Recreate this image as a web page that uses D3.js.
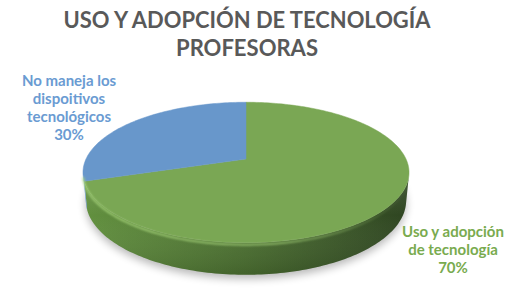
<!DOCTYPE html>
<html>
<head>
<meta charset="utf-8">
<script src="https://cdn.jsdelivr.net/npm/d3@7"></script>
<style>
	html, body { margin: 0; padding: 0; background: #fff; }
	svg { display: block; font-family: Lato, "Open Sans", sans-serif; }
</style>
</head>
<body>
<svg id="chart" width="525" height="299"></svg>
<script>
const TITLE_LINES = ["USO Y ADOPCIÓN DE TECNOLOGÍA", "PROFESORAS"];
const CATEGORIES = ["Uso y adopción de tecnología", "No maneja los dispoitivos tecnológicos"];
const VALUES = [70, 30];
const LABEL_LINES = [["Uso y adopción", "de tecnología"], ["No maneja los", "dispoitivos", "tecnológicos"]];
const TOP_COLORS = ["#7aa754", "#6897cb"];
const SIDE_COLORS = [["#62903f", "#4b6f31", "#2e4421"], ["#5d95d4", "#4f7fb8", "#3b6394"]];
const LABEL_COLORS = ["#79ab4f", "#6a9bd2"];

// camera for the tilted pie (radius 1 in world units)
const VIEW = {
	cx: 246,
	cy: 159,
	elev: 25 * Math.PI / 180,
	dist: 4.728,
	focal: 756.5,
	depth: 0.193
};

/**
 * @param {Number} theta angle clockwise from the far point
 * @param {Number} r radius fraction
 * @param {Number} yw world height (0 top, negative down)
 */
const project = (theta, r, yw) => {
	let X = r * Math.sin(theta);
	let Z = r * Math.cos(theta);
	let se = Math.sin(VIEW.elev), ce = Math.cos(VIEW.elev);
	let dep = VIEW.dist - yw * se + Z * ce;
	let up = yw * ce + Z * se;
	return [VIEW.cx + VIEW.focal * X / dep, VIEW.cy - VIEW.focal * up / dep];
};

const sample = (a0, a1, yw) => {
	let n = Math.max(2, Math.ceil(Math.abs(a1 - a0) / 0.02));
	return d3.range(n + 1).map((i) => project(a0 + (a1 - a0) * i / n, 1, yw));
};

const line = d3.line();

const build = () => {
	let svg = d3.select("#chart");
	let defs = svg.append("defs");

	defs.append("filter").attr("id", "shadowBlur")
		.attr("x", "-20%").attr("y", "-20%").attr("width", "140%").attr("height", "140%")
		.append("feGaussianBlur").attr("stdDeviation", 4);
	defs.append("filter").attr("id", "rimBlur")
		.append("feGaussianBlur").attr("stdDeviation", 0.8);

	SIDE_COLORS.forEach((c, i) => {
		let g = defs.append("linearGradient").attr("id", "side" + i)
			.attr("gradientUnits", "userSpaceOnUse")
			.attr("x1", 85).attr("x2", 410).attr("y1", 0).attr("y2", 0);
		g.append("stop").attr("offset", "0%").attr("stop-color", c[0]);
		g.append("stop").attr("offset", "50%").attr("stop-color", c[1]);
		g.append("stop").attr("offset", "100%").attr("stop-color", c[2]);
	});

	let shade = defs.append("linearGradient").attr("id", "sideShade")
		.attr("x1", 0).attr("x2", 0).attr("y1", 0).attr("y2", 1);
	shade.append("stop").attr("offset", "0%").attr("stop-color", "#fff").attr("stop-opacity", 0.12);
	shade.append("stop").attr("offset", "40%").attr("stop-color", "#fff").attr("stop-opacity", 0);
	shade.append("stop").attr("offset", "100%").attr("stop-color", "#000").attr("stop-opacity", 0.12);

	let rim = defs.append("linearGradient").attr("id", "rimGrad")
		.attr("gradientUnits", "userSpaceOnUse")
		.attr("x1", 85).attr("x2", 410).attr("y1", 0).attr("y2", 0);
	rim.append("stop").attr("offset", "0%").attr("stop-color", "#a6d47a").attr("stop-opacity", 0.9);
	rim.append("stop").attr("offset", "60%").attr("stop-color", "#a6d47a").attr("stop-opacity", 0.7);
	rim.append("stop").attr("offset", "100%").attr("stop-color", "#a6d47a").attr("stop-opacity", 0);

	let pie = d3.pie().sort(null).startAngle(0).endAngle(2 * Math.PI);
	let arcs = pie(VALUES);

	// visible part of the wall: outward normal faces the camera
	let lim = Math.acos(-1 / (VIEW.dist * Math.cos(VIEW.elev)));
	let visLo = lim, visHi = 2 * Math.PI - lim;
	let h = -VIEW.depth;

	// soft shadow under the disc
	svg.append("path")
		.attr("d", line(sample(visLo - 0.3, visHi + 0.3, h)) + "Z")
		.attr("transform", "translate(0,4)")
		.attr("fill", "#000")
		.attr("opacity", 0.28)
		.attr("filter", "url(#shadowBlur)");

	// side walls
	arcs.forEach((a, i) => {
		let lo = Math.max(a.startAngle, visLo);
		let hi = Math.min(a.endAngle, visHi);
		if (hi <= lo) return;
		let pts = sample(lo, hi, 0).concat(sample(hi, lo, h));
		svg.append("path").attr("d", line(pts) + "Z").attr("fill", "url(#side" + i + ")");
		svg.append("path").attr("d", line(pts) + "Z").attr("fill", "url(#sideShade)");
	});

	// top faces
	arcs.forEach((a, i) => {
		let pts = [project(0, 0, 0)].concat(sample(a.startAngle, a.endAngle, 0));
		svg.append("path")
			.attr("d", line(pts) + "Z")
			.attr("fill", TOP_COLORS[i])
			.attr("stroke", TOP_COLORS[i])
			.attr("stroke-width", 0.5);
	});

	// bevel highlight along the front rim
	svg.append("path")
		.attr("d", line(sample(visLo, visHi, -0.012)))
		.attr("fill", "none")
		.attr("stroke", "url(#rimGrad)")
		.attr("stroke-width", 2)
		.attr("filter", "url(#rimBlur)");

	// title
	svg.append("g")
		.attr("fill", "#595959")
		.attr("font-weight", "bold")
		.attr("font-size", 23)
		.attr("text-anchor", "middle")
		.selectAll("text")
		.data(TITLE_LINES)
		.enter().append("text")
		.attr("x", 247)
		.attr("y", (d, i) => 28 + i * 28)
		.attr("textLength", (d, i) => i === 0 ? 367 : 142)
		.attr("lengthAdjust", "spacingAndGlyphs")
		.text((d) => d);

	// data labels
	let labelPos = [[453, 237], [69, 86]];
	let total = d3.sum(VALUES);
	arcs.forEach((a, i) => {
		let lines = LABEL_LINES[i].concat([Math.round(a.data / total * 100) + "%"]);
		svg.append("g")
			.attr("fill", LABEL_COLORS[i])
			.attr("font-weight", "bold")
			.attr("font-size", 15)
			.attr("text-anchor", "middle")
			.selectAll("text")
			.data(lines)
			.enter().append("text")
			.attr("x", labelPos[i][0])
			.attr("y", (d, j) => labelPos[i][1] + j * 18)
			.text((d) => d);
	});
};

build();
</script>
</body>
</html>
